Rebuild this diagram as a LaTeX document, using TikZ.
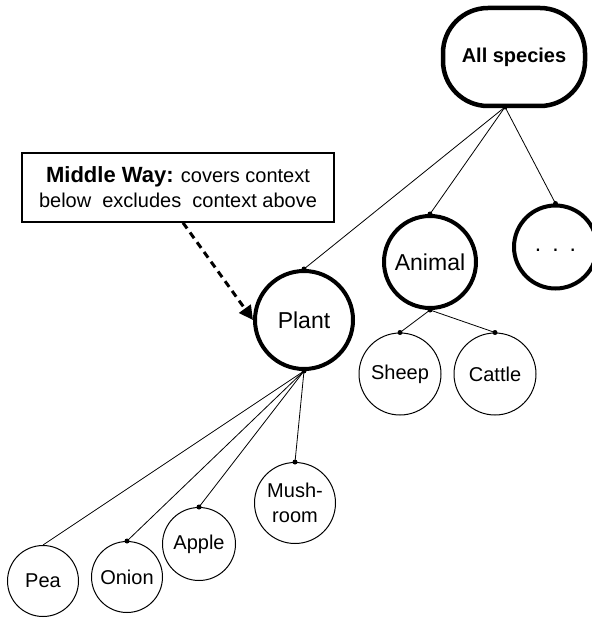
\documentclass[tikz,border=0pt]{standalone}
\usepackage{fontspec}
\setmainfont{Liberation Sans}
\usetikzlibrary{arrows.meta,calc}
\begin{document}
\begin{tikzpicture}[x=1pt,y=-1pt,
  every node/.style={inner sep=0pt, font=\fontsize{20}{25}\selectfont},
  major/.style={circle, draw, line width=4pt, font=\fontsize{23}{27}\selectfont},
  leaf/.style={circle, draw, line width=1pt},
  link/.style={line width=0.8pt},
  joint/.style={fill=black},
]
\useasboundingbox (0,0) rectangle (591,620);

% root of the taxonomy
\node[rectangle, draw, line width=4.5pt, rounded corners=45pt,
      minimum width=142pt, minimum height=98pt,
      font=\bfseries\fontsize{20}{24}\selectfont] (all) at (514,57) {All species};
\coordinate (allout) at (505,107);

% second level
\node[major, minimum size=98pt] (plant) at (304,320) {Plant};
\node[major, minimum size=92pt] (animal) at (430,262) {Animal};
\node[major, minimum size=83pt] (more) at (555.5,247)
  {\raisebox{-8pt}{.\hspace{11pt}.\hspace{11pt}.}};

% leaves
\node[leaf, minimum size=82pt] (sheep) at (400,374) {Sheep};
\node[leaf, minimum size=82pt] (cattle) at (495,374) {Cattle};
\node[leaf, minimum size=71pt] (pea) at (43,581) {Pea};
\node[leaf, minimum size=71pt] (onion) at (127,577) {Onion};
\node[leaf, minimum size=73pt] (apple) at (199,544) {Apple};
\node[leaf, minimum size=81pt, align=center] (mush) at (295,503) {Mush-\\room};

% annotation
\node[draw, line width=1.5pt, minimum width=312pt, minimum height=69pt, align=center]
  (note) at (178,187.5)
  {{\bfseries\fontsize{22}{25}\selectfont Middle Way:} covers context\\below\ \ excludes\ \ context above};

% tree edges
\draw[link] (allout) -- (plant.north);
\draw[link] (allout) -- (animal.north);
\draw[link] (allout) -- (more.north);
\draw[link] (animal.south) -- (sheep.north);
\draw[link] (animal.south) -- (cattle.north);
\draw[link] (plant.south) -- (pea.north);
\draw[link] (plant.south) -- (onion.north);
\draw[link] (plant.south) -- (apple.north);
\draw[link] (plant.south) -- (mush.north);

% connection points
\foreach \p in {allout, plant.north, animal.north, more.north, animal.south,
                sheep.north, cattle.north, plant.south, onion.north,
                apple.north, mush.north}
  \fill[joint] (\p) circle (2.5pt);

% pointer from the annotation
\draw[line width=3pt, dash pattern=on 7pt off 5pt,
      -{Triangle[length=14pt,width=14pt]}]
  ([xshift=5pt]note.south) -- (plant.west);
\end{tikzpicture}
\end{document}
